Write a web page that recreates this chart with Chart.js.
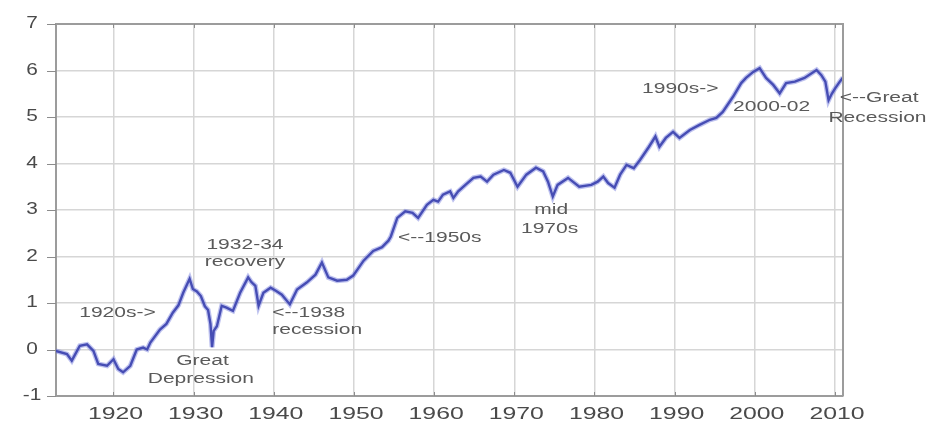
<!DOCTYPE html>
<html>
<head>
<meta charset="utf-8">
<script src="https://cdn.jsdelivr.net/npm/chart.js@4"></script>
<style>
  html, body { margin: 0; background: #fff; }
  #chart { display: block; }
</style>
</head>
<body>
<canvas id="chart" width="931" height="426"></canvas>
<script>
// ── data ────────────────────────────────────────────────────────────
const years = [
  1912.8, 1914.2, 1914.8, 1915.8, 1916.7, 1917.5, 1918.1, 1919.2, 1920.0, 1920.6,
  1921.2, 1922.1, 1922.9, 1923.7, 1924.2, 1924.6, 1925.8, 1926.6, 1927.4, 1928.1,
  1928.7, 1929.5, 1929.9, 1930.4, 1930.9, 1931.4, 1931.8, 1932.1, 1932.3, 1932.5,
  1932.9, 1933.5, 1934.1, 1934.9, 1935.8, 1936.8, 1937.2, 1937.7, 1938.1, 1938.7,
  1939.6, 1940.3, 1941.0, 1942.0, 1942.9, 1944.1, 1945.2, 1946.0, 1946.8, 1947.9,
  1949.1, 1949.9, 1951.2, 1952.4, 1953.5, 1954.3, 1954.6, 1955.4, 1956.4, 1957.3,
  1958.0, 1959.1, 1959.9, 1960.5, 1961.1, 1962.0, 1962.4, 1963.0, 1963.9, 1964.9,
  1965.8, 1966.6, 1967.4, 1968.7, 1969.5, 1970.4, 1971.5, 1972.7, 1973.6, 1974.2,
  1974.8, 1975.4, 1976.7, 1978.1, 1979.6, 1980.4, 1981.1, 1981.7, 1982.5, 1983.2,
  1984.0, 1984.9, 1985.7, 1986.8, 1987.6, 1988.1, 1988.9, 1989.8, 1990.6, 1991.9,
  1993.1, 1994.4, 1995.2, 1996.0, 1997.3, 1998.3, 1998.9, 1999.8, 2000.6, 2001.4,
  2002.3, 2003.1, 2003.9, 2005.0, 2006.2, 2007.7, 2008.3, 2008.8, 2009.2, 2009.6,
  2010.0, 2010.6, 2011.0,
];
const values = [
  -0.03, -0.10, -0.24, 0.08, 0.11, -0.03, -0.31, -0.35, -0.21, -0.42,
  -0.49, -0.35, 0.00, 0.04, 0.00, 0.15, 0.43, 0.55, 0.79, 0.95,
  1.22, 1.52, 1.30, 1.25, 1.15, 0.93, 0.85, 0.55, 0.05, 0.40,
  0.50, 0.94, 0.90, 0.83, 1.22, 1.55, 1.45, 1.37, 0.94, 1.22,
  1.33, 1.26, 1.18, 0.97, 1.29, 1.44, 1.61, 1.87, 1.55, 1.48,
  1.50, 1.59, 1.91, 2.12, 2.20, 2.34, 2.43, 2.83, 2.97, 2.94,
  2.83, 3.11, 3.22, 3.18, 3.33, 3.40, 3.26, 3.40, 3.54, 3.69,
  3.72, 3.61, 3.76, 3.86, 3.80, 3.50, 3.76, 3.91, 3.83, 3.61,
  3.29, 3.54, 3.69, 3.50, 3.54, 3.61, 3.72, 3.58, 3.48, 3.76,
  3.97, 3.90, 4.08, 4.36, 4.58, 4.36, 4.55, 4.68, 4.55, 4.72,
  4.83, 4.94, 4.98, 5.11, 5.44, 5.73, 5.84, 5.97, 6.05, 5.84,
  5.69, 5.51, 5.73, 5.76, 5.84, 6.01, 5.90, 5.76, 5.36, 5.50,
  5.61, 5.76, 5.85,
];
const xTicks = [1920, 1930, 1940, 1950, 1960, 1970, 1980, 1990, 2000, 2010];
const yTicks = [-1, 0, 1, 2, 3, 4, 5, 6, 7];

// annotation text, anchored at (year, value)
const noteText  = ["1920s->", "Great", "Depression", "1932-34", "recovery", "<--1938", "recession",
                   "<--1950s", "mid", "1970s", "1990s->", "2000-02", "<--Great", "Recession"];
const noteYear  = [1920.5, 1931.1, 1930.9, 1936.4, 1936.4, 1939.8, 1939.8,
                   1955.5, 1974.6, 1974.4, 1990.7, 2002.1, 2010.6, 2015.3];
const noteValue = [0.79, -0.24, -0.64, 2.25, 1.87, 0.79, 0.41,
                   2.40, 3.00, 2.58, 5.60, 5.21, 5.41, 4.98];
const noteAlign = ["center", "center", "center", "center", "center", "left", "left",
                   "left", "center", "center", "center", "center", "left", "center"];

const points = years.map((x, i) => ({ x, y: values[i] }));

// ── helpers ────────────────────────────────────────────────────────
const FONT = '"Liberation Sans", Arial, sans-serif';
function wideText(ctx, txt, x, y, sx, align) {
  ctx.save();
  ctx.translate(x, y);
  ctx.scale(sx, 1);
  ctx.textAlign = align;
  ctx.textBaseline = "middle";
  ctx.fillText(txt, 0, 0);
  ctx.restore();
}

// frame, ticks, labels and notes
const decor = {
  id: "decor",
  afterDraw(chart) {
    const { ctx, chartArea: a, scales: { x, y } } = chart;
    ctx.save();
    // top + right edge of the box
    ctx.strokeStyle = "#9c9c9c";
    ctx.lineWidth = 2;
    ctx.beginPath();
    ctx.moveTo(a.left, a.top); ctx.lineTo(a.right, a.top); ctx.lineTo(a.right, a.bottom);
    ctx.stroke();

    // tick marks
    ctx.strokeStyle = "#8c8c8c";
    ctx.lineWidth = 1;
    ctx.beginPath();
    yTicks.forEach((v) => {
      const py = Math.round(y.getPixelForValue(v)) + 0.5;
      ctx.moveTo(a.left - 9, py); ctx.lineTo(a.left, py);
    });
    xTicks.forEach((v) => {
      const px = Math.round(x.getPixelForValue(v)) + 0.5;
      ctx.moveTo(px, a.bottom); ctx.lineTo(px, a.bottom - 4);
      ctx.moveTo(px, a.top); ctx.lineTo(px, a.top + 4);
    });
    ctx.stroke();

    // tick labels
    ctx.fillStyle = "#4a4a4a";
    ctx.font = "16px " + FONT;
    yTicks.forEach((v) => wideText(ctx, String(v), 32, y.getPixelForValue(v), 1.3, "center"));
    xTicks.forEach((v) => wideText(ctx, String(v), x.getPixelForValue(v) + 2, 415, 1.55, "center"));

    // annotations
    ctx.fillStyle = "#5a5a5a";
    ctx.font = "14px " + FONT;
    noteText.forEach((t, i) =>
      wideText(ctx, t, x.getPixelForValue(noteYear[i]), y.getPixelForValue(noteValue[i]), 1.5, noteAlign[i]));
    ctx.restore();
  },
};

new Chart(document.getElementById("chart"), {
  type: "line",
  data: {
    datasets: [
      { data: points, borderColor: "rgba(110,120,220,0.45)", borderWidth: 5, pointRadius: 0, tension: 0 },
      { data: points, borderColor: "#262a94", borderWidth: 2.4, pointRadius: 0, tension: 0 },
    ],
  },
  options: {
    responsive: false,
    animation: false,
    devicePixelRatio: 1,
    layout: { padding: { left: 0, top: 24, right: 88, bottom: 0 } },
    plugins: { legend: { display: false }, tooltip: { enabled: false } },
    scales: {
      x: {
        type: "linear",
        min: 1912.83,
        max: 2011,
        afterBuildTicks: (s) => { s.ticks = xTicks.map((value) => ({ value })); },
        afterFit: (s) => { s.height = 30; },
        ticks: { display: false },
        grid: { color: "#d6d6d6", lineWidth: 1.5, drawTicks: false },
        border: { color: "#9c9c9c", width: 2 },
      },
      y: {
        min: -1,
        max: 7,
        afterBuildTicks: (s) => { s.ticks = yTicks.map((value) => ({ value })); },
        afterFit: (s) => { s.width = 56; },
        ticks: { display: false },
        grid: { color: "#d6d6d6", lineWidth: 1.5, drawTicks: false },
        border: { color: "#9c9c9c", width: 2 },
      },
    },
  },
  plugins: [decor],
});
</script>
</body>
</html>
